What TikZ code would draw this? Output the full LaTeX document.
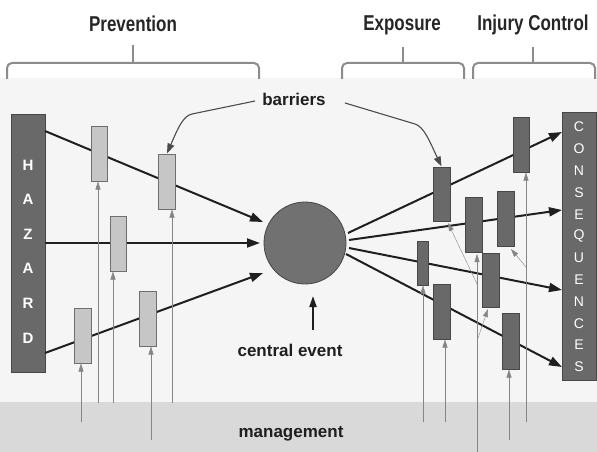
\documentclass[tikz,border=0pt]{standalone}
\usepackage{fontspec}
\setmainfont{Liberation Sans}
\newfontfamily\titlefont[FakeStretch=0.79]{Liberation Sans}
\usetikzlibrary{arrows.meta}
\definecolor{panel}{HTML}{F5F5F5}
\definecolor{mgmt}{HTML}{D9D9D9}
\definecolor{darkbox}{HTML}{696969}
\definecolor{darkedge}{HTML}{474747}
\definecolor{lightbox}{HTML}{C6C6C6}
\definecolor{lightedge}{HTML}{6E6E6E}
\definecolor{thin}{HTML}{858585}
\definecolor{bracecol}{HTML}{8C8C8C}
\begin{document}
\begin{tikzpicture}[x=1pt,y=-1pt,
  mainarrow/.style={line width=2pt, draw=black!88, -{Triangle[length=13pt,width=9pt]}},
  mgmtarrow/.style={line width=1.1pt, draw=thin, -{Triangle[length=8pt,width=5pt]}, thin},
  ptrarrow/.style={line width=1.1pt, draw=black!70, -{Triangle[length=10pt,width=7pt]}},
  lbar/.style 2 args={draw=lightedge, fill=lightbox, line width=1pt, inner sep=0pt, minimum width=#1pt, minimum height=#2pt},
  dbar/.style 2 args={draw=darkedge, fill=darkbox, line width=1pt, inner sep=0pt, minimum width=#1pt, minimum height=#2pt},
  bigbox/.style={draw=darkedge, fill=darkbox, line width=0.8pt},
  bracestyle/.style={draw=bracecol, line width=2pt, rounded corners=5pt},
  titletext/.style={font=\titlefont\bfseries\fontsize{21.5}{24}\selectfont, text=black!85, anchor=base, inner sep=0pt},
  labeltext/.style={font=\bfseries\fontsize{17}{20}\selectfont, text=black!88, anchor=base, inner sep=0pt},
  hazletter/.style={font=\bfseries\fontsize{15}{17}\selectfont, text=white, inner sep=0pt},
  conletter/.style={font=\fontsize{14}{16}\selectfont, text=white, inner sep=0pt}
]
\useasboundingbox (0,0) rectangle (597,452);
% backgrounds
\fill[white] (0,0) rectangle (597,78);
\fill[panel] (0,78) rectangle (597,402);
\fill[mgmt] (0,402) rectangle (597,452);

% titles and braces
\node[titletext] (prev) at (133,32) {Prevention};
\node[titletext] (expo) at (402,31) {Exposure};
\node[titletext] (injc) at (533,31) {Injury Control};
\draw[bracestyle] (7,79) -- (7,63) -- (133,63) -- (259,63) -- (259,79);
\draw[bracestyle] (133,63) -- (133,45);
\draw[bracestyle] (342,79) -- (342,63) -- (403,63) -- (464,63) -- (464,79);
\draw[bracestyle] (403,63) -- (403,47);
\draw[bracestyle] (473,79) -- (473,63) -- (533,63) -- (595,63) -- (595,79);
\draw[bracestyle] (533,63) -- (533,47);

% hazard and consequences
\filldraw[bigbox] (11,114) rectangle (45,372);
\node[inner sep=0, minimum width=34pt, minimum height=258pt] (hazard) at (28,243) {};
\foreach \L [count=\i] in {H,A,Z,A,R,D}
  \node[hazletter] (hz\i) at (28,{165+(\i-1)*34.6}) {\L};
\filldraw[bigbox] (562,112) rectangle (596,380);
\node[inner sep=0, minimum width=34pt, minimum height=268pt] (conseq) at (579,246) {};
\foreach \L [count=\i] in {C,O,N,S,E,Q,U,E,N,C,E,S}
  \node[conletter] (cq\i) at (579,{127+(\i-1)*21.8}) {\L};

% central event
\node[circle, draw=darkedge, fill=darkbox!95, line width=0.8pt, minimum size=82pt, inner sep=0] (event) at (305,243) {};

% coordinates for main arrows
\coordinate (h1) at (45,131);
\coordinate (h2) at (45,243);
\coordinate (h3) at (45,353);
\coordinate (c1) at (263,222);
\coordinate (c2) at (260,243);
\coordinate (c3) at (263,273);
\coordinate (e1) at (348,233);
\coordinate (e2) at (349,240);
\coordinate (e3) at (349,248);
\coordinate (e4) at (346,254);
\coordinate (q1) at (562,132);
\coordinate (q2) at (562,210);
\coordinate (q3) at (562,290);
\coordinate (q4) at (562,367);

\draw[mainarrow] (h1) -- (c1);
\draw[mainarrow] (h2) -- (c2);
\draw[mainarrow] (h3) -- (c3);
\draw[mainarrow] (e1) -- (q1);
\draw[mainarrow] (e2) -- (q2);
\draw[mainarrow] (e3) -- (q3);
\draw[mainarrow] (e4) -- (q4);

% management line starts (prevention)
\coordinate (m1) at (98,403);
\coordinate (m2) at (172,403);
\coordinate (m3) at (113,403);
\coordinate (m4) at (81,422);
\coordinate (m5) at (151,440);
% management line starts (right)
\coordinate (m6) at (423,422);
\coordinate (m7) at (445,422);
\coordinate (m8) at (509,440);
\coordinate (m9) at (526,422);
\coordinate (m10) at (477,452);
\coordinate (j1) at (526,267);
\coordinate (j2) at (477,284);
\coordinate (j3) at (477,341);

% prevention barriers
\node[lbar={16}{55}] (b1) at (99,153.5) {};
\node[lbar={17}{55}] (b2) at (167,181.5) {};
\node[lbar={16}{55}] (b3) at (118,243.5) {};
\node[lbar={17}{55}] (b4) at (82.5,335.5) {};
\node[lbar={17}{55}] (b5) at (148,318.5) {};

% right barriers
\node[dbar={17}{54}] (x1) at (441.5,194) {};
\node[dbar={16}{55}] (i1) at (521,144.5) {};
\node[dbar={17}{55}] (i2) at (473.5,224.5) {};
\node[dbar={17}{55}] (i3) at (505.5,218.5) {};
\node[dbar={11}{44}] (x2) at (422.5,263) {};
\node[dbar={17}{54}] (i4) at (490.5,280) {};
\node[dbar={17}{55}] (x3) at (441.5,311.5) {};
\node[dbar={17}{56}] (i5) at (510.5,341) {};

% management arrows
\draw[mgmtarrow] (m1) -- (b1.south -| m1);
\draw[mgmtarrow] (m2) -- (b2.south -| m2);
\draw[mgmtarrow] (m3) -- (b3.south -| m3);
\draw[mgmtarrow] (m4) -- (b4.south -| m4);
\draw[mgmtarrow] (m5) -- (b5.south -| m5);
\draw[mgmtarrow] (m6) -- (x2.south -| m6);
\draw[mgmtarrow] (m7) -- (x3.south -| m7);
\draw[mgmtarrow] (m8) -- (i5.south -| m8);
\draw[mgmtarrow] (m9) -- (i1.south -| m9);
\draw[mgmtarrow] (j1) -- (511,249);
\draw[mgmtarrow] (m10) -- (477,254);
\draw[mgmtarrow] (j2) -- (448,223);
\draw[mgmtarrow] (j3) -- (488,309);

% labels
\node[labeltext] (barriers) at (294,105) {barriers};
\node[labeltext] (central) at (290,356) {central event};
\node[labeltext] (management) at (291,437) {management};
\coordinate (bl) at (255,101);
\coordinate (br) at (345,103);
\draw[ptrarrow] (bl) -- (192,114) .. controls (183,116) and (178,128) .. (b2.north);
\draw[ptrarrow] (br) -- (415,124) .. controls (424,127) and (429,140) .. (x1.north);
\coordinate (ev1) at (313,330);
\draw[line width=2pt, draw=black!88, -{Triangle[length=11pt,width=7pt]}] (ev1) -- (313,296);
\end{tikzpicture}
\end{document}
